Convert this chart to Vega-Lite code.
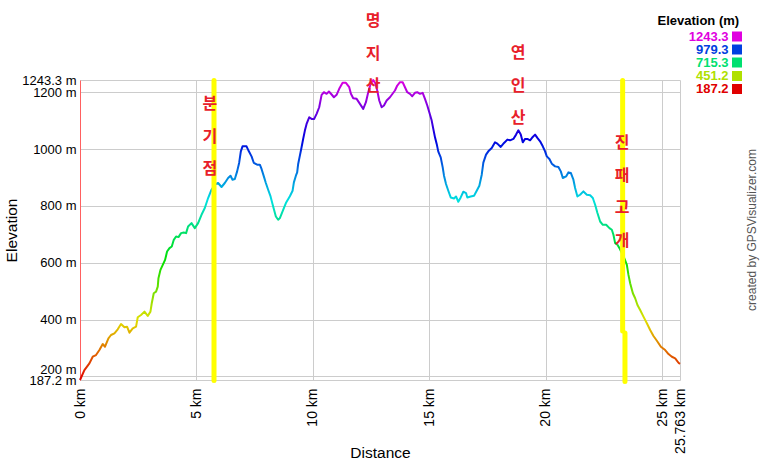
{
  "$schema": "https://vega.github.io/schema/vega-lite/v6.json",
  "width": 600,
  "height": 300,
  "autosize": {"type": "none"},
  "padding": {"left": 80, "top": 80, "right": 80, "bottom": 80},
  "background": "white",
  "config": {
    "view": {"stroke": null},
    "font": "Liberation Sans",
    "legend": {
      "orient": "none", "legendX": 577.5,
      "symbolType": "square", "symbolSize": 100, "symbolStrokeWidth": 0,
      "labelAlign": "right", "labelOffset": -15, "symbolOffset": 73,
      "labelFont": "Liberation Sans", "labelFontSize": 13, "labelFontWeight": "bold",
      "padding": 0, "rowPadding": 0
    }
  },
  "datasets": {
    "profile": [
      {"d":0,"e":187.2},{"d":0.189,"e":222.1},{"d":0.404,"e":245.8},{"d":0.546,"e":269.1},{"d":0.688,"e":275.1},{"d":0.834,"e":292.7},{"d":0.976,"e":313.9},{"d":1.074,"e":304.3},{"d":1.22,"e":334.0},{"d":1.332,"e":345.6},{"d":1.478,"e":351.6},{"d":1.62,"e":365.7},{"d":1.762,"e":384.4},{"d":1.908,"e":372.8},{"d":2.02,"e":374.9},{"d":2.123,"e":353.7},{"d":2.265,"e":369.2},{"d":2.407,"e":374.9},{"d":2.48,"e":408.0},{"d":2.621,"e":416.1},{"d":2.768,"e":427.8},{"d":2.909,"e":412.6},{"d":3.025,"e":427.8},{"d":3.081,"e":457.4},{"d":3.167,"e":492.7},{"d":3.266,"e":498.3},{"d":3.339,"e":516.0},{"d":3.369,"e":545.6},{"d":3.455,"e":574.9},{"d":3.554,"e":592.5},{"d":3.653,"e":610.1},{"d":3.739,"e":639.4},{"d":3.842,"e":651.4},{"d":3.941,"e":657.1},{"d":4.027,"e":680.7},{"d":4.125,"e":692.3},{"d":4.229,"e":690.2},{"d":4.34,"e":704.3},{"d":4.456,"e":706.4},{"d":4.555,"e":704.3},{"d":4.641,"e":727.6},{"d":4.787,"e":739.6},{"d":4.929,"e":722.0},{"d":5.071,"e":739.6},{"d":5.217,"e":768.9},{"d":5.359,"e":792.5},{"d":5.501,"e":827.8},{"d":5.647,"e":857.1},{"d":5.789,"e":874.7},{"d":5.93,"e":880.7},{"d":6.077,"e":866.6},{"d":6.218,"e":880.7},{"d":6.36,"e":898.3},{"d":6.463,"e":906.4},{"d":6.549,"e":892.3},{"d":6.648,"e":894.8},{"d":6.747,"e":921.6},{"d":6.833,"e":951.2},{"d":6.906,"e":992.2},{"d":6.979,"e":1009.8},{"d":7.151,"e":1009.8},{"d":7.25,"e":992.2},{"d":7.366,"e":974.5},{"d":7.465,"e":951.2},{"d":7.606,"e":945.2},{"d":7.722,"e":945.2},{"d":7.795,"e":930.1},{"d":7.894,"e":904.0},{"d":7.98,"e":880.7},{"d":8.079,"e":857.1},{"d":8.182,"e":833.4},{"d":8.294,"e":798.2},{"d":8.41,"e":762.9},{"d":8.509,"e":751.2},{"d":8.582,"e":757.2},{"d":8.698,"e":780.5},{"d":8.84,"e":810.1},{"d":9.012,"e":834.1},{"d":9.128,"e":853.5},{"d":9.184,"e":882.8},{"d":9.27,"e":906.4},{"d":9.325,"e":918.1},{"d":9.368,"e":947.7},{"d":9.441,"e":977.0},{"d":9.514,"e":1006.3},{"d":9.583,"e":1035.9},{"d":9.656,"e":1065.2},{"d":9.729,"e":1088.8},{"d":9.841,"e":1112.1},{"d":9.944,"e":1106.4},{"d":10.056,"e":1106.4},{"d":10.159,"e":1124.1},{"d":10.271,"e":1147.4},{"d":10.374,"e":1191.1},{"d":10.473,"e":1200.3},{"d":10.589,"e":1194.6},{"d":10.688,"e":1202.7},{"d":10.804,"e":1192.2},{"d":10.903,"e":1182.6},{"d":11.018,"e":1191.1},{"d":11.13,"e":1212.3},{"d":11.276,"e":1233.4},{"d":11.418,"e":1233.4},{"d":11.56,"e":1217.9},{"d":11.633,"e":1194.6},{"d":11.732,"e":1179.1},{"d":11.878,"e":1177.0},{"d":12.02,"e":1159.3},{"d":12.162,"e":1141.7},{"d":12.277,"e":1165.0},{"d":12.376,"e":1200.3},{"d":12.48,"e":1229.9},{"d":12.591,"e":1243.3},{"d":12.686,"e":1231.0},{"d":12.763,"e":1206.3},{"d":12.849,"e":1171.0},{"d":12.952,"e":1147.4},{"d":13.051,"e":1153.4},{"d":13.167,"e":1171.0},{"d":13.309,"e":1182.6},{"d":13.524,"e":1206.3},{"d":13.623,"e":1223.9},{"d":13.739,"e":1235.5},{"d":13.855,"e":1235.5},{"d":13.954,"e":1217.9},{"d":14.052,"e":1200.3},{"d":14.168,"e":1194.6},{"d":14.267,"e":1186.2},{"d":14.383,"e":1198.2},{"d":14.482,"e":1200.3},{"d":14.598,"e":1194.6},{"d":14.714,"e":1198.2},{"d":14.813,"e":1177.0},{"d":14.912,"e":1153.4},{"d":14.998,"e":1129.7},{"d":15.101,"e":1100.4},{"d":15.17,"e":1071.2},{"d":15.243,"e":1041.5},{"d":15.316,"e":1018.3},{"d":15.385,"e":991.1},{"d":15.488,"e":971.0},{"d":15.574,"e":935.7},{"d":15.63,"e":906.4},{"d":15.716,"e":877.2},{"d":15.814,"e":853.5},{"d":15.918,"e":829.9},{"d":16.059,"e":826.4},{"d":16.145,"e":833.4},{"d":16.244,"e":814.7},{"d":16.347,"e":829.9},{"d":16.459,"e":850.0},{"d":16.575,"e":845.4},{"d":16.631,"e":829.9},{"d":16.777,"e":833.4},{"d":16.919,"e":835.9},{"d":17.035,"e":853.5},{"d":17.147,"e":871.2},{"d":17.25,"e":910.0},{"d":17.319,"e":952.3},{"d":17.435,"e":980.5},{"d":17.533,"e":992.2},{"d":17.68,"e":1004.1},{"d":17.821,"e":1023.9},{"d":17.92,"e":1019.3},{"d":18.066,"e":1007.7},{"d":18.208,"e":1021.8},{"d":18.35,"e":1033.4},{"d":18.466,"e":1031.0},{"d":18.608,"e":1035.9},{"d":18.724,"e":1051.1},{"d":18.823,"e":1066.2},{"d":18.926,"e":1051.1},{"d":19.012,"e":1023.9},{"d":19.111,"e":1035.9},{"d":19.21,"e":1035.9},{"d":19.326,"e":1031.0},{"d":19.441,"e":1042.9},{"d":19.54,"e":1051.1},{"d":19.639,"e":1039.4},{"d":19.755,"e":1027.4},{"d":19.871,"e":1009.8},{"d":19.97,"e":992.2},{"d":20.043,"e":974.5},{"d":20.155,"e":965.3},{"d":20.258,"e":948.8},{"d":20.4,"e":939.2},{"d":20.542,"e":937.1},{"d":20.645,"e":921.6},{"d":20.731,"e":898.3},{"d":20.872,"e":904.0},{"d":20.971,"e":918.1},{"d":21.075,"e":916.0},{"d":21.186,"e":892.3},{"d":21.259,"e":863.1},{"d":21.358,"e":833.4},{"d":21.474,"e":839.4},{"d":21.616,"e":851.1},{"d":21.762,"e":839.4},{"d":21.904,"e":837.7},{"d":22.02,"e":827.8},{"d":22.119,"e":804.2},{"d":22.218,"e":774.9},{"d":22.334,"e":745.2},{"d":22.45,"e":733.6},{"d":22.592,"e":733.6},{"d":22.733,"e":722.0},{"d":22.836,"e":716.0},{"d":22.905,"e":698.3},{"d":22.978,"e":669.1},{"d":23.077,"e":663.1},{"d":23.163,"e":651.4},{"d":23.266,"e":633.8},{"d":23.365,"e":617.2},{"d":23.481,"e":592.5},{"d":23.55,"e":557.2},{"d":23.623,"e":528.0},{"d":23.739,"e":492.7},{"d":23.838,"e":475.1},{"d":23.936,"e":451.4},{"d":24.052,"e":433.8},{"d":24.194,"e":410.1},{"d":24.34,"e":386.9},{"d":24.482,"e":363.2},{"d":24.624,"e":342.1},{"d":24.77,"e":325.5},{"d":24.942,"e":304.3},{"d":25.127,"e":292.7},{"d":25.269,"e":278.6},{"d":25.415,"e":269.1},{"d":25.557,"e":263.4},{"d":25.698,"e":247.9},{"d":25.763,"e":244.0}
    ],
    "markers": [
      {"d": 5.754, "e": 1241.5, "e2": 185.5},
      {"d": 23.30, "e": 1241.5, "e2": 359.8},
      {"d": 23.40, "e": 352.7, "e2": 182.0}
    ],
    "labels": [
      {"d": 5.58, "e": 1141.2, "t": "분\n기\n점"},
      {"d": 12.59, "e": 1433.4, "t": "명\n지\n산"},
      {"d": 18.81, "e": 1320.7, "t": "연\n인\n산"},
      {"d": 23.28, "e": 1003.9, "t": "진\n패\n고\n개"}
    ],
    "credit": [
      {"d": 29.03, "e": 715.3, "t": "created by GPSVisualizer.com"}
    ]
  },
  "encoding": {
    "x": {
      "field": "d", "type": "quantitative",
      "scale": {"domain": [0, 25.763], "nice": false, "zero": false},
      "axis": {
        "values": [0, 5, 10, 15, 20, 25, 25.763],
        "labelExpr": "format(datum.value, '.3~f') + ' km'",
        "labelAngle": -90, "labelFlush": false, "labelOverlap": false,
        "ticks": false, "domain": false, "gridColor": "#cccccc", "gridWidth": 1,
        "labelFont": "Liberation Sans", "labelFontSize": 14, "labelColor": "#000000", "labelPadding": 8,
        "title": "Distance", "titleFont": "Liberation Sans", "titleFontSize": 15.5, "titleFontWeight": "normal",
        "titleColor": "#000000", "titleY": 77.5, "titleBaseline": "alphabetic"
      }
    },
    "y": {
      "field": "e", "type": "quantitative",
      "scale": {"domain": [187.2, 1243.3], "nice": false, "zero": false},
      "axis": {
        "values": [187.2, 200, 400, 600, 800, 1000, 1200, 1243.3],
        "labelExpr": "format(datum.value, '.1~f') + ' m'",
        "labelOverlap": false, "labelFlush": false,
        "labelOffset": {"condition": {"test": "datum.value == 200", "value": -7}, "value": 0},
        "ticks": false, "domain": true, "domainColor": "#ff6060", "domainWidth": 1,
        "gridColor": "#cccccc", "gridWidth": 1,
        "labelFont": "Liberation Sans", "labelFontSize": 13, "labelColor": "#000000", "labelPadding": 4,
        "title": "Elevation", "titleFont": "Liberation Sans", "titleFontSize": 15.5, "titleFontWeight": "normal",
        "titleColor": "#000000", "titleX": -63.5, "titleBaseline": "alphabetic"
      }
    }
  },
  "layer": [
    {
      "data": {"values": [{"lv": "1243.3"}]},
      "mark": {"type": "point", "filled": true, "shape": "square", "opacity": 1},
      "encoding": {
        "color": {
          "field": "lv", "type": "nominal",
          "scale": {"domain": ["1243.3"], "range": ["#e000e0"]},
          "legend": {
            "title": "Elevation (m)", "legendY": -65, "labelColor": "#e000e0",
            "titleFont": "Liberation Sans", "titleFontSize": 13, "titleFontWeight": "bold", "titleColor": "#000000",
            "titleAnchor": "start", "titleAlign": "left", "titlePadding": 2
          }
        }
      }
    },
    {
      "data": {"values": [{"lv": "979.3"}]},
      "mark": {"type": "point", "filled": true, "shape": "square", "opacity": 1},
      "encoding": {
        "fill": {
          "field": "lv", "type": "nominal",
          "scale": {"domain": ["979.3"], "range": ["#0040e0"]},
          "legend": {"title": null, "legendY": -37, "labelColor": "#0040e0"}
        }
      }
    },
    {
      "data": {"values": [{"lv": "715.3"}]},
      "mark": {"type": "point", "filled": true, "shape": "square", "opacity": 1, "color": "#00e070"},
      "encoding": {
        "stroke": {
          "field": "lv", "type": "nominal",
          "scale": {"domain": ["715.3"], "range": ["#00e070"]},
          "legend": {"title": null, "legendY": -24, "labelColor": "#00e070", "symbolFillColor": "#00e070"}
        }
      }
    },
    {
      "data": {"values": [{"lv": "451.2"}]},
      "mark": {"type": "point", "filled": true, "opacity": 1, "color": "#b0e000"},
      "encoding": {
        "shape": {
          "field": "lv", "type": "nominal",
          "scale": {"domain": ["451.2"], "range": ["square"]},
          "legend": {"title": null, "legendY": -10.5, "labelColor": "#b0e000", "symbolFillColor": "#b0e000"}
        }
      }
    },
    {
      "data": {"values": [{"lv": "187.2"}]},
      "mark": {"type": "point", "filled": true, "shape": "square", "opacity": 1, "color": "#e00000"},
      "encoding": {
        "strokeDash": {
          "field": "lv", "type": "nominal",
          "scale": {"domain": ["187.2"], "range": [[1, 0]]},
          "legend": {"title": null, "legendY": 2.5, "labelColor": "#e00000", "symbolFillColor": "#e00000"}
        }
      }
    },
    {
      "data": {"name": "profile"},
      "mark": {
        "type": "line", "strokeWidth": 2, "strokeJoin": "round",
        "stroke": {
          "gradient": "linear", "x1": 0, "y1": 1, "x2": 0, "y2": 0,
          "stops": [
            {"offset": 0, "color": "#e00000"},
            {"offset": 0.2, "color": "#e0e000"},
            {"offset": 0.4, "color": "#00e000"},
            {"offset": 0.6, "color": "#00e0e0"},
            {"offset": 0.8, "color": "#0000e0"},
            {"offset": 1, "color": "#e000e0"}
          ]
        }
      }
    },
    {
      "data": {"name": "markers"},
      "mark": {"type": "rule", "strokeWidth": 5, "color": "#ffff00", "strokeCap": "round"},
      "encoding": {"y2": {"field": "e2"}}
    },
    {
      "data": {"name": "labels"},
      "mark": {
        "type": "text", "lineBreak": "\n", "align": "center", "baseline": "alphabetic",
        "font": "Noto Sans CJK KR", "fontSize": 16, "fontWeight": "bold", "lineHeight": 32.7,
        "color": "#e8202a"
      },
      "encoding": {"text": {"field": "t"}}
    },
    {
      "data": {"name": "credit"},
      "mark": {
        "type": "text", "align": "center", "baseline": "alphabetic", "angle": -90,
        "font": "Liberation Sans", "fontSize": 12, "color": "#555555"
      },
      "encoding": {"text": {"field": "t"}}
    }
  ]
}
